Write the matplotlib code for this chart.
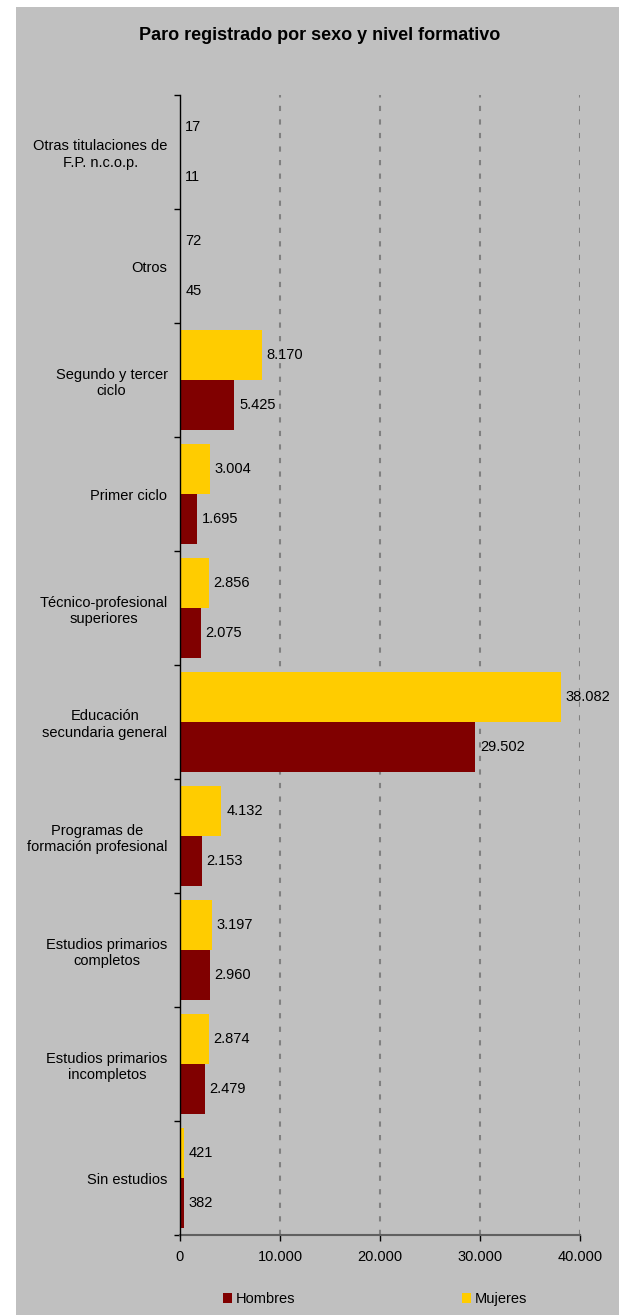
import matplotlib
matplotlib.use("Agg")
import matplotlib.pyplot as plt
from matplotlib.patches import Rectangle
import numpy as np

plt.rcParams['font.family'] = ['Liberation Sans', 'DejaVu Sans']

categories = [
    "Sin estudios",
    "Estudios primarios\nincompletos",
    "Estudios primarios\ncompletos",
    "Programas de\nformación profesional",
    "Educación\nsecundaria general",
    "Técnico-profesional\nsuperiores",
    "Primer ciclo",
    "Segundo y tercer\nciclo",
    "Otros",
    "Otras titulaciones de\nF.P. n.c.o.p.",
]
hombres = [382, 2479, 2960, 2153, 29502, 2075, 1695, 5425, 45, 11]
mujeres = [421, 2874, 3197, 4132, 38082, 2856, 3004, 8170, 72, 17]
x_ticks = [0, 10000, 20000, 30000, 40000]
x_tick_labels = ["0", "10.000", "20.000", "30.000", "40.000"]
title = "Paro registrado por sexo y nivel formativo"

W, H = 627, 1315
FS = 10.5
fig = plt.figure(figsize=(W / 100, H / 100), dpi=100)
fig.patch.set_facecolor("white")
fig.add_artist(Rectangle((16 / W, 0), 603 / W, (H - 7) / H,
                         transform=fig.transFigure, facecolor="#C0C0C0",
                         edgecolor="none", zorder=-10))

ax = fig.add_axes([180 / W, 1 - 1235 / H, 400 / W, (1235 - 95) / H])
ax.set_facecolor("none")

y = np.arange(len(categories))
h = 0.44
b_h = ax.barh(y - h / 2, hombres, height=h, color="#800000", label="Hombres", zorder=3)
b_m = ax.barh(y + h / 2, mujeres, height=h, color="#FFCC00", label="Mujeres", zorder=3)

def fmt(v):
    return f"{v:,}".replace(",", ".")

for bars, vals in ((b_h, hombres), (b_m, mujeres)):
    for rect, v in zip(bars, vals):
        ax.annotate(fmt(v), (rect.get_width(), rect.get_y() + rect.get_height() / 2),
                    xytext=(3.5, 0), textcoords="offset points",
                    ha="left", va="center", fontsize=FS, color="black", zorder=5)

ax.set_xlim(0, 40000)
ax.set_ylim(-0.5, len(categories) - 0.5)
ax.set_xticks(x_ticks)
ax.set_xticklabels(x_tick_labels, fontsize=FS)
ax.set_yticks(y)
ax.set_yticklabels(categories, fontsize=FS, ha="right", multialignment="center")
ax.set_yticks(np.arange(len(categories) + 1) - 0.5, minor=True)
ax.tick_params(axis="y", which="major", length=0, pad=9)
ax.tick_params(axis="y", which="minor", length=4, width=1, color="black", direction="out")
ax.tick_params(axis="x", length=4, width=1, color="black", direction="out", pad=7)

for xv in x_ticks[1:]:
    ax.axvline(xv, color="#808080", linestyle=(0, (2.5, 4)), linewidth=1.5, zorder=1)

for s in ("top", "right"):
    ax.spines[s].set_visible(False)
ax.spines["left"].set_color("black")
ax.spines["left"].set_linewidth(1)
ax.spines["left"].set_zorder(4)
ax.spines["bottom"].set_color("#606060")
ax.spines["bottom"].set_linewidth(1.5)

fig.text(320 / W, 1 - 35 / H, title, ha="center", va="center",
         fontsize=13, fontweight="bold")

fig.legend(handles=[b_h, b_m], labels=["Hombres", "Mujeres"], ncol=2,
           loc="center", bbox_to_anchor=(375 / W, 1 - 1299 / H),
           bbox_transform=fig.transFigure, frameon=False, fontsize=FS,
           handlelength=0.65, handleheight=0.65, handletextpad=0.25,
           columnspacing=11.4)

fig.savefig("out.png", dpi=100, facecolor=fig.get_facecolor())
